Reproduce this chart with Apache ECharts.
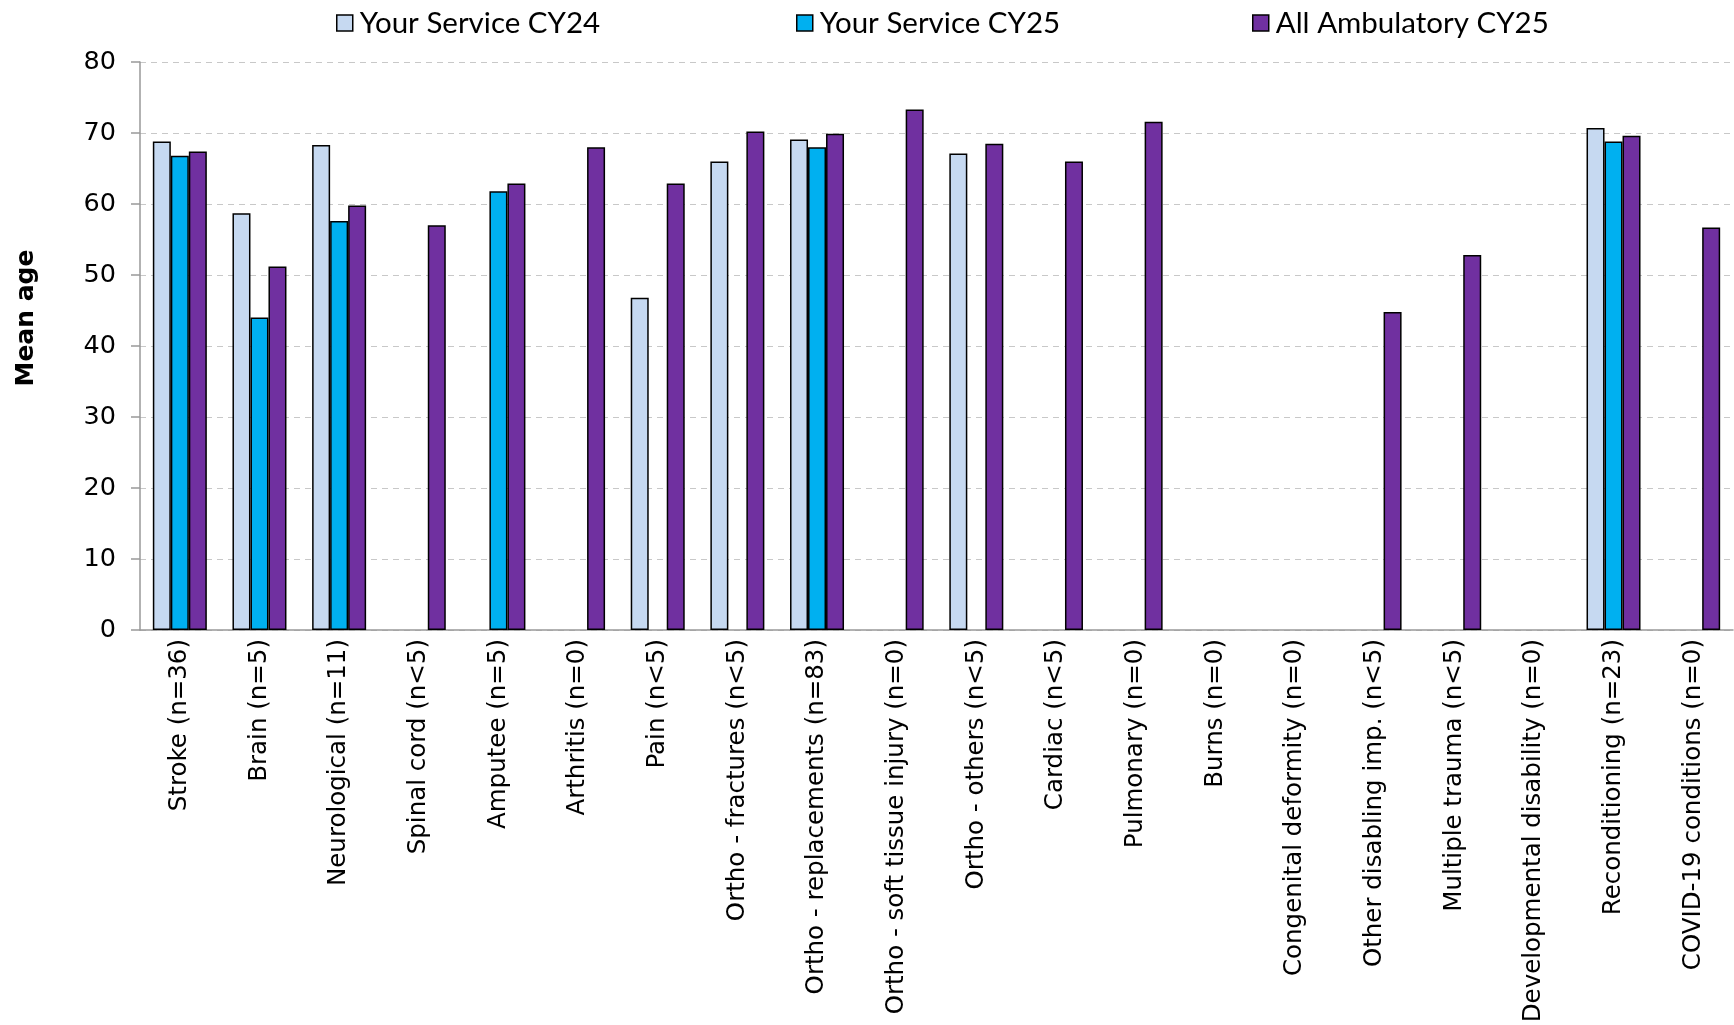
<!DOCTYPE html>
<html>
<head>
<meta charset="utf-8">
<script src="https://cdn.jsdelivr.net/npm/echarts@6/dist/echarts.min.js"></script>
<style>html,body{margin:0;padding:0;background:#fff}#chart{width:1734px;height:1025px}</style>
</head>
<body>
<div id="chart"></div>
<script>
const categories = ["Stroke (n=36)","Brain (n=5)","Neurological (n=11)","Spinal cord (n<5)","Amputee (n=5)","Arthritis (n=0)","Pain (n<5)","Ortho - fractures (n<5)","Ortho - replacements (n=83)","Ortho - soft tissue injury (n=0)","Ortho - others (n<5)","Cardiac (n<5)","Pulmonary (n=0)","Burns (n=0)","Congenital deformity (n=0)","Other disabling imp. (n<5)","Multiple trauma (n<5)","Developmental disability (n=0)","Reconditioning (n=23)","COVID-19 conditions (n=0)"];
const seriesNames = ["Your Service CY24","Your Service CY25","All Ambulatory CY25"];
const serviceCY24 = [68.8,58.7,68.3,null,null,null,46.8,66.0,69.1,null,67.1,null,null,null,null,null,null,null,70.7,null];
const serviceCY25 = [66.8,44.0,57.6,null,61.8,null,null,null,68.0,null,null,null,null,null,null,null,null,null,68.8,null];
const ambulatoryCY25 = [67.4,51.2,59.8,57.0,62.9,68.0,62.9,70.2,69.9,73.3,68.5,66.0,71.6,null,null,44.8,52.8,null,69.6,56.7];
const yTicks = {min:0, max:80, interval:10};
const yAxisTitle = "Mean age";

const colors = ["#C6D9F1","#00B0F0","#7030A0"];
const fontMain = "DejaVu Sans";
const chart = echarts.init(document.getElementById('chart'), null, {renderer:'canvas'});
const dataSets = [serviceCY24, serviceCY25, ambulatoryCY25];
const legendLefts = [331, 791, 1247];
chart.setOption({
  animation:false,
  backgroundColor:'#fff',
  textStyle:{fontFamily:fontMain},
  legend: seriesNames.map((n,i)=>({
    data:[n], left:legendLefts[i], top:3, itemWidth:16, itemHeight:16, itemGap:0,
    icon:'rect',
    itemStyle:{borderColor:'#000', borderWidth:1.5},
    textStyle:{fontFamily:'Lato', fontSize:29.5, color:'#000', padding:[0,0,0,2]},
    selectedMode:false
  })),
  graphic:[{
    type:'text', x:26, y:318, rotation:Math.PI/2,
    style:{text:yAxisTitle, font:'bold 25px "DejaVu Sans"', fill:'#000', align:'center', verticalAlign:'middle'}
  }],
  grid:{left:140, right:1, top:62, bottom:395, containLabel:false, outerBoundsMode:'none'},
  xAxis:{
    type:'category', data:categories,
    axisLine:{lineStyle:{color:'#999', width:1.5}},
    axisTick:{show:false},
    axisLabel:{rotate:90, interval:0, color:'#000', fontSize:24.5, fontFamily:fontMain, margin:9}
  },
  yAxis:{
    type:'value', min:yTicks.min, max:yTicks.max, interval:yTicks.interval,
    axisLine:{show:true, lineStyle:{color:'#999', width:1.5}},
    axisTick:{show:true, length:9, lineStyle:{color:'#999', width:1.5}},
    axisLabel:{color:'#000', fontSize:25.5, fontFamily:fontMain, margin:24},
    splitLine:{lineStyle:{color:'#c8c8c8', type:[6,5], width:1.2}}
  },
  series: seriesNames.map((n,i)=>({
    name:n, type:'bar', data:dataSets[i], barWidth:18, barGap:'0%',
    itemStyle:{color:colors[i], borderColor:'#000', borderWidth:1.5}
  }))
});
</script>
</body>
</html>
